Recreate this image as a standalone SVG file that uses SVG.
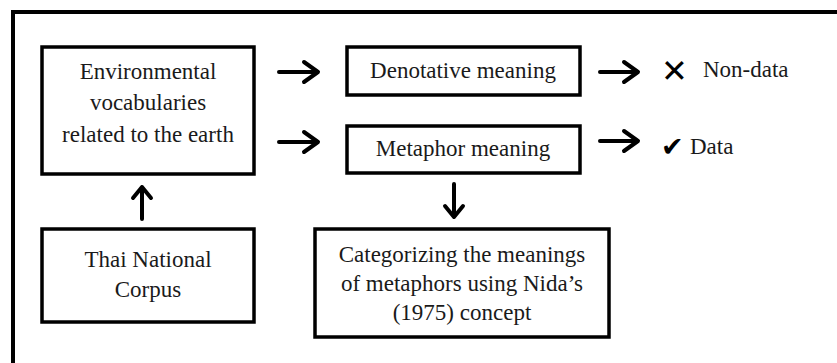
<svg xmlns="http://www.w3.org/2000/svg" width="837" height="363" viewBox="0 0 837 363">
<style>
.box{fill:#fff;stroke:#000;stroke-width:3.5}
.t{font-family:'Liberation Serif','Times New Roman','DejaVu Serif',serif;font-size:23px;fill:#1a1a1a}
.c{text-anchor:middle}
.arr{fill:none;stroke:#000;stroke-width:4;stroke-linecap:round;stroke-linejoin:round}
.sym{font-family:'DejaVu Sans',sans-serif;fill:#000}
</style>
<rect width="837" height="363" fill="#fff"/>
<path d="M13,365 L13,12 L840,12" fill="none" stroke="#000" stroke-width="4"/>
<g id="env">
<rect class="box" x="42" y="47" width="212" height="127"/>
<text class="t c" x="148" y="79">Environmental</text>
<text class="t c" x="148" y="110">vocabularies</text>
<text class="t c" x="148" y="142">related to the earth</text>
</g>
<g id="denot">
<rect class="box" x="347" y="47" width="233" height="48"/>
<text class="t c" x="463" y="78">Denotative meaning</text>
</g>
<g id="metaphor">
<rect class="box" x="347" y="126" width="233" height="47"/>
<text class="t c" x="463" y="156">Metaphor meaning</text>
</g>
<g id="thai">
<rect class="box" x="42" y="229" width="212" height="93"/>
<text class="t c" x="148" y="267">Thai National</text>
<text class="t c" x="148" y="297">Corpus</text>
</g>
<g id="categorize">
<rect class="box" x="315" y="229" width="294" height="108"/>
<text class="t c" x="462" y="262">Categorizing the meanings</text>
<text class="t c" x="462" y="291">of metaphors using Nida’s</text>
<text class="t c" x="462" y="320">(1975) concept</text>
</g>
<g id="nondata">
<text class="sym" x="661" y="82" font-size="32">✕</text>
<text class="t" x="703" y="77">Non-data</text>
</g>
<g id="data">
<text class="sym" x="661" y="156" font-size="27">✔</text>
<text class="t" x="690" y="154">Data</text>
</g>
<g id="connectors">
<path class="arr" d="M279,72 L318,72 M304,62 L318,72 L304,82"/>
<path class="arr" d="M279,142 L318,142 M304,132 L318,142 L304,152"/>
<path class="arr" d="M600,72 L638,72 M624,62 L638,72 L624,82"/>
<path class="arr" d="M600,141 L638,141 M624,131 L638,141 L624,151"/>
<path class="arr" d="M142,219 L142,187 M133,198 L142,187 L151,198"/>
<path class="arr" d="M454,184 L454,217 M445,206 L454,217 L463,206"/>
</g>
</svg>
